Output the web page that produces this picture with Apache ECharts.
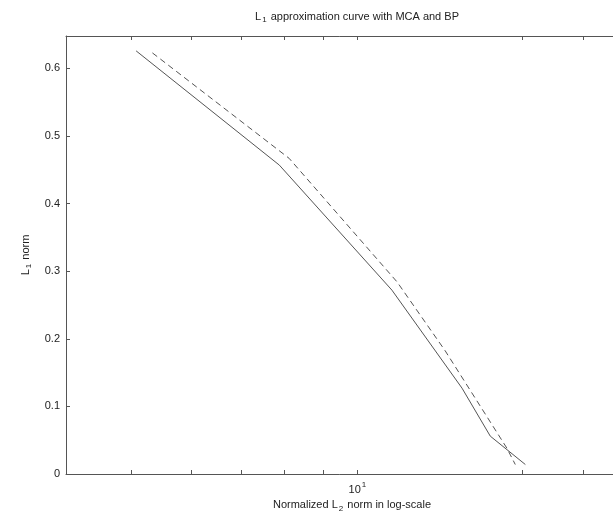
<!DOCTYPE html>
<html>
<head>
<meta charset="utf-8">
<script src="https://cdn.jsdelivr.net/npm/echarts@6/dist/echarts.min.js"></script>
<style>
  html, body { margin: 0; padding: 0; background: #fff; }
  #chart { width: 613px; height: 519px; }
</style>
</head>
<body>
<div id="chart"></div>
<script>
// Normalized L2 norm (log scale) and the L1 norm reached by each method
const mcaL2 = [5.07, 7.87, 11.12, 13.79, 15.04, 16.75];
const mcaL1 = [0.626, 0.457, 0.272, 0.127, 0.056, 0.014];
const bpL2 = [5.33, 8.11, 11.30, 13.10, 15.83, 16.24];
const bpL1 = [0.623, 0.467, 0.284, 0.182, 0.038, 0.014];

// Axis ticks
const xTicks = [5, 6, 7, 8, 9, 10, 16.6, 20];
const xLabels = [10];
const yTicks = [0, 0.1, 0.2, 0.3, 0.4, 0.5, 0.6];

const axisColor = '#555';
const lineColor = '#555';
const textColor = '#222';
const font = 'Liberation Sans, Arial, sans-serif';

const pairs = (xs, ys) => xs.map((x, i) => [x, ys[i]]);

const subRich = {
  a: { fontFamily: font, fontSize: 11, color: textColor, lineHeight: 14 },
  s: { fontFamily: font, fontSize: 8, color: textColor, padding: [7, 1, 0, 1] }
};

const chart = echarts.init(document.getElementById('chart'), null, { renderer: 'canvas' });

const xBase = {
  type: 'log',
  logBase: 10,
  min: 4.088,
  max: 23.67,
  splitLine: { show: false },
  axisLine: { show: true, lineStyle: { color: axisColor, width: 1 } },
  axisTick: { show: true, inside: true, length: 4, customValues: xTicks, lineStyle: { color: axisColor } }
};

chart.setOption({
  animation: false,
  backgroundColor: '#fff',
  title: {
    text: '{a|L}{s|1}{a| approximation curve with MCA and BP}',
    left: 352,
    textAlign: 'center',
    top: 4,
    textStyle: { fontWeight: 'normal', rich: subRich }
  },
  grid: { left: 66, top: 36, bottom: 45, width: 572, containLabel: false, outerBoundsMode: 'none' },
  xAxis: [
    Object.assign({}, xBase, {
      position: 'bottom',
      name: '{a|Normalized L}{s|2}{a| norm in log-scale}',
      nameLocation: 'middle',
      nameGap: 22,
      nameTextStyle: { rich: subRich },
      axisLabel: {
        show: true,
        customValues: xLabels,
        margin: 6,
        formatter: function (v) {
          const p = Math.round(Math.log10(v));
          return '{b|10}{p|' + p + '}';
        },
        rich: {
          b: { fontFamily: font, fontSize: 11, color: textColor, padding: [4, 0, 0, 0] },
          p: { fontFamily: font, fontSize: 8, color: textColor, padding: [0, 0, 6, 1] }
        }
      }
    }),
    Object.assign({}, xBase, {
      position: 'top',
      axisLabel: { show: false }
    })
  ],
  yAxis: {
    type: 'value',
    min: 0,
    max: 0.648,
    interval: 0.1,
    splitLine: { show: false },
    axisLine: { show: true, lineStyle: { color: axisColor, width: 1 } },
    axisTick: { show: true, inside: true, length: 4, customValues: yTicks, lineStyle: { color: axisColor } },
    axisLabel: {
      customValues: yTicks,
      margin: 6,
      fontFamily: font,
      fontSize: 11,
      color: textColor
    },
    name: '{a|L}{s|1}{a| norm}',
    nameLocation: 'middle',
    nameRotate: 90,
    nameGap: 33,
    nameTextStyle: { rich: subRich }
  },
  series: [
    {
      name: 'MCA',
      type: 'line',
      xAxisIndex: 0,
      data: pairs(mcaL2, mcaL1),
      symbol: 'none',
      lineStyle: { color: lineColor, width: 1 }
    },
    {
      name: 'BP',
      type: 'line',
      xAxisIndex: 0,
      data: pairs(bpL2, bpL1),
      symbol: 'none',
      lineStyle: { color: lineColor, width: 1, type: [6, 4] }
    }
  ]
});
</script>
</body>
</html>
